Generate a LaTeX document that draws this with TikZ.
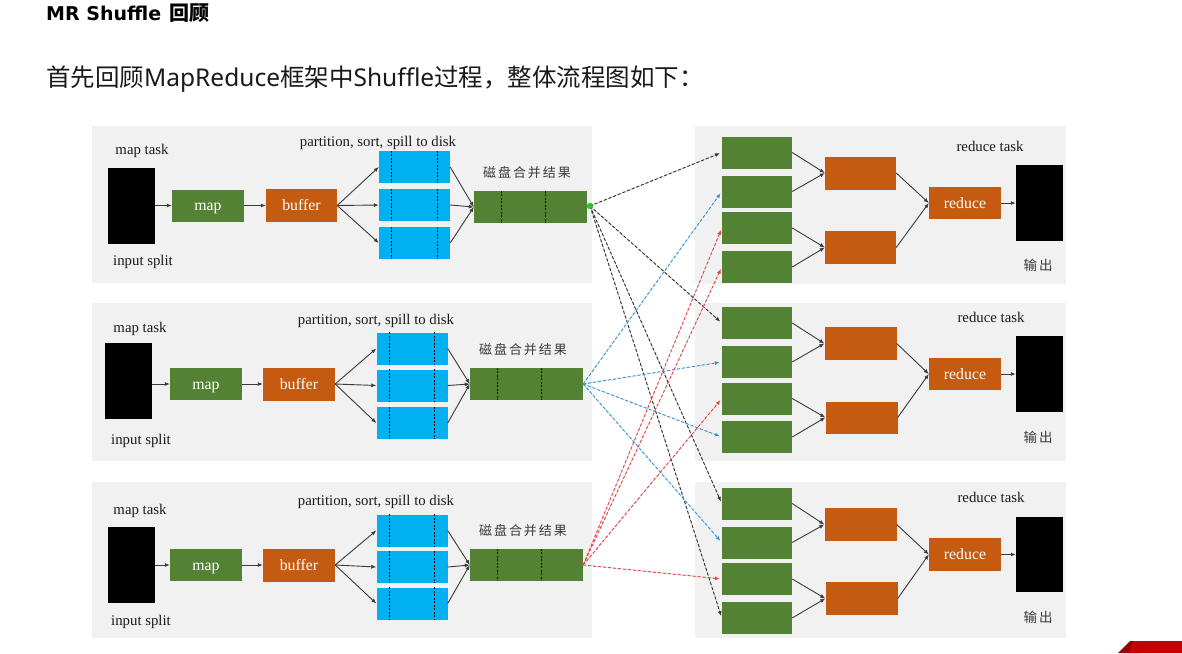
\documentclass[tikz,border=0pt]{standalone}
\usepackage{fontspec}
\setmainfont{Liberation Serif}
\newfontfamily\hsans{Noto Sans}
\newfontfamily\djb{DejaVu Sans Bold}
\newfontfamily\hcjk{Noto Sans CJK SC}
\newfontfamily\dcjk[LetterSpace=15]{Noto Sans CJK SC}
\usetikzlibrary{arrows.meta}
\definecolor{gfill}{HTML}{548235}
\definecolor{ofill}{HTML}{C55A11}
\definecolor{bfill}{HTML}{00B0F0}
\definecolor{panelc}{HTML}{F1F1F1}
\definecolor{txtc}{HTML}{1A1A1A}
\definecolor{cjkc}{HTML}{3A3A3A}
\definecolor{linec}{HTML}{3A3A3A}
\definecolor{shblk}{HTML}{333333}
\definecolor{shblu}{HTML}{3D95D6}
\definecolor{shred}{HTML}{E04848}
\definecolor{dotc}{HTML}{2FBF2F}
\definecolor{darkred}{HTML}{960000}
\definecolor{widred}{HTML}{C80000}
\begin{document}
\begin{tikzpicture}[x=1pt,y=-1pt,
  panel/.style={fill=panelc},
  lbl/.style={inner sep=0,text=txtc,font=\fontsize{14.8}{16}\selectfont},
  cjklbl/.style={inner sep=0,text=cjkc,font=\dcjk\fontsize{13}{14}\selectfont},
  cjkout/.style={inner sep=0,text=cjkc,font=\dcjk\fontsize{13.5}{14}\selectfont},
  boxbase/.style={inner sep=0,draw=none,text=white,text height=10pt,text depth=0pt,font=\fontsize{15.8}{16}\selectfont},
  gbox/.style={boxbase,fill=gfill,minimum width=70pt,minimum height=32pt},
  obox/.style={boxbase,fill=ofill,minimum width=72pt,minimum height=33pt},
  bbox/.style={boxbase,fill=bfill,minimum width=71pt,minimum height=32pt},
  mbox/.style={boxbase,fill=gfill,minimum width=113pt,minimum height=32pt},
  inbox/.style={inner sep=0,fill=black,minimum width=47pt,minimum height=76pt},
  arr/.style={draw=linec,line width=0.9pt,-{Latex[length=5pt,width=4pt]}},
  inner/.style={draw=black,line width=0.7pt,dash pattern=on 2pt off 1.5pt},
  shuf/.style={line width=0.95pt,dash pattern=on 3pt off 2pt,shorten >=2pt,-{Latex[length=5pt,width=4pt]}},
  shk/.style={shuf,draw=shblk,fill=shblk},
  shb/.style={shuf,draw=shblu,fill=shblu},
  shr/.style={shuf,draw=shred,fill=shred},
  gdot/.style={circle,fill=dotc,inner sep=0,minimum size=6pt}
]
\useasboundingbox (0,0) rectangle (1182,653);
\fill[white] (0,0) rectangle (1182,653);

% heading
\node[anchor=base west,inner sep=0,text=black] (h1) at (46,20)
  {{\djb\fontsize{19}{20}\selectfont MR Shuffle}\hspace{8pt}{\hcjk\bfseries\fontsize{20}{22}\selectfont 回顾}};
\node[anchor=base west,inner sep=0,text=txtc] (h2) at (46,86)
  {\fontsize{24.5}{26}\selectfont\hsans{\hcjk 首先回顾}MapReduce{\hcjk 框架中}Shuffle{\hcjk 过程，整体流程图如下：}};

% ================= map panel 1
\fill[panel] (92,126) rectangle (592,283);
\node[lbl] (mt1) at (142,151) {map task};
\node[inbox] (in1) at (131.5,206) {};
\node[lbl] (is1) at (143,262) {input split};
\node[gbox,minimum width=72pt] (map1) at (208,205.5) {map};
\node[obox,minimum width=71pt] (buf1) at (301.5,205.5) {buffer};
\node[lbl] (pt1) at (378,143) {partition, sort, spill to disk};
\node[bbox] (b11) at (414.5,167) {};
\node[bbox] (b12) at (414.5,205) {};
\node[bbox] (b13) at (414.5,243) {};
\node[mbox] (mg1) at (530.5,207) {};
\node[cjklbl] (cj1) at (527,173) {磁盘合并结果};

% ================= map panel 2
\fill[panel] (92,303) rectangle (592,461);
\node[lbl] (mt2) at (140,329) {map task};
\node[inbox] (in2) at (128.5,381) {};
\node[lbl] (is2) at (141,441) {input split};
\node[gbox,minimum width=72pt] (map2) at (206,384) {map};
\node[obox] (buf2) at (299,384) {buffer};
\node[lbl] (pt2) at (376,321) {partition, sort, spill to disk};
\node[bbox] (b21) at (412,348.5) {};
\node[bbox] (b22) at (412,385.5) {};
\node[bbox] (b23) at (412,423) {};
\node[mbox] (mg2) at (526.5,384) {};
\node[cjklbl] (cj2) at (523,350) {磁盘合并结果};

% ================= map panel 3
\fill[panel] (92,482) rectangle (592,638);
\node[lbl] (mt3) at (140,511) {map task};
\node[inbox] (in3) at (131.5,565) {};
\node[lbl] (is3) at (141,622) {input split};
\node[gbox,minimum width=72pt] (map3) at (206,565) {map};
\node[obox] (buf3) at (299,565) {buffer};
\node[lbl] (pt3) at (376,502) {partition, sort, spill to disk};
\node[bbox] (b31) at (412,530.5) {};
\node[bbox] (b32) at (412,567) {};
\node[bbox] (b33) at (412,603.5) {};
\node[mbox] (mg3) at (526.5,565) {};
\node[cjklbl] (cj3) at (523,531) {磁盘合并结果};

% dashed separators and arrows in map panels
\foreach \p in {1,2,3}{
  \foreach \q in {1,2,3}{
    \draw[inner] ([xshift=13pt]b\p\q.north west) -- ([xshift=13pt]b\p\q.south west);
    \draw[inner] ([xshift=-13pt]b\p\q.north east) -- ([xshift=-13pt]b\p\q.south east);
    \draw[arr] (buf\p.east) -- (b\p\q.west);
    \draw[arr] (b\p\q.east) -- (mg\p.west);
  }
  \draw[inner] ([xshift=28pt]mg\p.north west) -- ([xshift=28pt]mg\p.south west);
  \draw[inner] ([xshift=72pt]mg\p.north west) -- ([xshift=72pt]mg\p.south west);
  \draw[arr] (in\p.east |- map\p.west) -- (map\p.west);
  \draw[arr] (map\p.east) -- (buf\p.west);
}

% ================= reduce panel 1
\fill[panel] (695,126) rectangle (1066,284);
\node[gbox] (r1a) at (757,152.5) {};
\node[gbox] (r1b) at (757,191.5) {};
\node[gbox] (r1c) at (757,228) {};
\node[gbox] (r1d) at (757,267) {};
\node[obox,minimum width=71pt] (r1o) at (860.5,173) {};
\node[obox,minimum width=71pt] (r1p) at (860.5,247.5) {};
\node[obox,minimum height=32pt] (r1r) at (965,203) {reduce};
\node[inbox] (r1out) at (1039.5,203) {};
\node[lbl] (rt1) at (990,146) {reduce task};
\node[cjkout] (o1) at (1038,265) {输出};

% ================= reduce panel 2
\fill[panel] (695,303) rectangle (1066,461);
\node[gbox] (r2a) at (757,323) {};
\node[gbox] (r2b) at (757,362) {};
\node[gbox] (r2c) at (757,398.5) {};
\node[gbox] (r2d) at (757,437) {};
\node[obox,minimum width=72pt] (r2o) at (860.5,343.5) {};
\node[obox,minimum width=72pt,minimum height=32pt] (r2p) at (861.5,417.5) {};
\node[obox,minimum height=32pt] (r2r) at (965,374) {reduce};
\node[inbox] (r2out) at (1039.5,374) {};
\node[lbl] (rt2) at (991,317) {reduce task};
\node[cjkout] (o2) at (1038,437) {输出};

% ================= reduce panel 3
\fill[panel] (695,482) rectangle (1066,638);
\node[gbox] (r3a) at (757,503.5) {};
\node[gbox] (r3b) at (757,542.5) {};
\node[gbox] (r3c) at (757,579) {};
\node[gbox] (r3d) at (757,618) {};
\node[obox,minimum width=72pt] (r3o) at (860.5,524.5) {};
\node[obox,minimum width=72pt] (r3p) at (861.5,598.5) {};
\node[obox] (r3r) at (965,554.5) {reduce};
\node[inbox,minimum height=75pt] (r3out) at (1039.5,554.5) {};
\node[lbl] (rt3) at (991,497) {reduce task};
\node[cjkout] (o3) at (1038,617) {输出};

\foreach \p in {1,2,3}{
  \draw[arr] (r\p a.east) -- (r\p o.west);
  \draw[arr] (r\p b.east) -- (r\p o.west);
  \draw[arr] (r\p c.east) -- (r\p p.west);
  \draw[arr] (r\p d.east) -- (r\p p.west);
  \draw[arr] (r\p o.east) -- (r\p r.west);
  \draw[arr] (r\p p.east) -- (r\p r.west);
  \draw[arr] (r\p r.east) -- (r\p out.west);
}

% ================= shuffle connectors
\node[gdot] (d1) at (590,206) {};
\draw[shk] (d1.center) -- (r1a.west);
\draw[shk] (d1.center) -- (r2a.west);
\draw[shk] (d1.center) -- (r3a.west);
\draw[shk] (d1.center) -- (r3d.west);
\draw[shb] (mg2.east) -- (r1b.west);
\draw[shb] (mg2.east) -- (r2b.west);
\draw[shb] (mg2.east) -- (r2d.west);
\draw[shb] (mg2.east) -- (r3b.west);
\draw[shr] (mg3.east) -- (r1c.west);
\draw[shr] (mg3.east) -- (r1d.west);
\draw[shr] (mg3.east) -- (r2c.west);
\draw[shr] (mg3.east) -- (r3c.west);
\node[gdot] at (d1) {};

% page corner widget
\fill[darkred] (1118,653) -- (1130,641) -- (1140,641) -- (1140,653) -- cycle;
\fill[widred] (1128,653) -- (1134,641) -- (1182,641) -- (1182,653) -- cycle;
\end{tikzpicture}
\end{document}
